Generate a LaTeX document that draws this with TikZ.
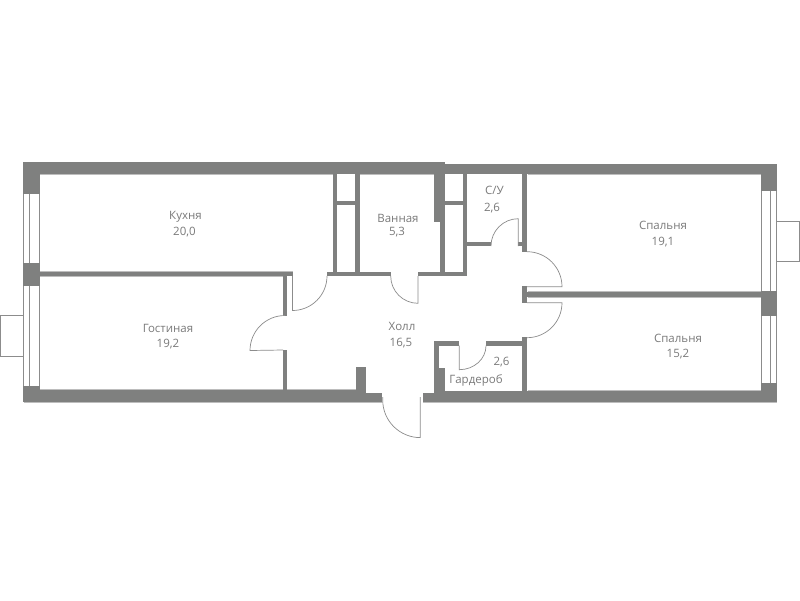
\documentclass[tikz,border=0pt]{standalone}
\usepackage{fontspec}
\setmainfont{Open Sans}
\definecolor{wallc}{HTML}{7F807F}
\definecolor{linec}{HTML}{8C8C8C}
\definecolor{lightc}{HTML}{BDBDBD}
\definecolor{textc}{HTML}{7A7A7A}
\tikzset{
  wall/.style={fill=wallc,draw=none},
  thinline/.style={draw=linec,line width=0.7pt},
  lightline/.style={draw=lightc,line width=1pt},
  label/.style={text=textc,font=\fontsize{11.5}{13}\selectfont,inner sep=0pt,text height=8.3pt,text depth=0pt}
}
\begin{document}
\begin{tikzpicture}[x=1pt,y=-1pt]
\useasboundingbox (0,0) rectangle (800,600);
\fill[white] (0,0) rectangle (800,600);
% light wall edges
\draw[lightline] (39.5,174.5) -- (333,174.5) (360,174.5) -- (434,174.5) (39.5,271.6) -- (292.7,271.6) (39.5,276.5) -- (282.7,276.5);
\draw[lightline] (39.5,389.6) -- (282.7,389.6) (287.3,389.6) -- (355.7,389.6) (23.5,402.7) -- (382,402.7) (423,402.7) -- (777,402.7);
\draw[lightline] (527.5,174.5) -- (761,174.5) (527.5,291.6) -- (761,291.6) (527.5,297) -- (761,297) (527.5,390.2) -- (761,390.2);
\draw[lightline] (39.8,174) -- (39.8,390) (761,174) -- (761,390);
% outer walls
\fill[wall] (23.3,162.3) rectangle (445,174);
\fill[wall] (445,164) rectangle (777,174);
\fill[wall] (23.3,390) rectangle (366,402.3);
\fill[wall] (366,392.7) rectangle (382.3,402.3);
\fill[wall] (422.7,392.7) rectangle (445,402.3);
\fill[wall] (445,390.7) rectangle (777,402.3);
% left piers
\fill[wall] (23.3,174) rectangle (39.5,194);
\fill[wall] (23.3,262.7) rectangle (39.5,285.7);
\fill[wall] (23.3,386) rectangle (39.5,390.5);
% right piers
\fill[wall] (761,174) rectangle (777,191.3);
\fill[wall] (761,291.3) rectangle (777,316.3);
\fill[wall] (761,383.3) rectangle (777,390.7);
% windows
\draw[thinline] (23.8,194) -- (23.8,262.7) (29.5,194) -- (29.5,262.7) (39.2,194) -- (39.2,262.7);
\draw[thinline] (23.8,285.7) -- (23.8,386) (29.5,285.7) -- (29.5,386) (39.2,285.7) -- (39.2,386);
\draw[thinline] (761.8,191.3) -- (761.8,291.3) (770.7,191.3) -- (770.7,291.3) (776.6,191.3) -- (776.6,291.3);
\draw[thinline] (761.8,316.3) -- (761.8,383.3) (770.7,316.3) -- (770.7,383.3) (776.6,316.3) -- (776.6,383.3);
% balconies
\draw[thinline] (23.3,315.8) -- (0.5,315.8) -- (0.5,356) -- (23.3,356);
\draw[thinline] (777,220.9) -- (799.5,220.9) -- (799.5,261) -- (777,261);
% inner horizontal wall
\fill[wall] (39.5,272) rectangle (292.7,276);
\fill[wall] (327,272) rectangle (390.7,276);
\fill[wall] (417.7,272) rectangle (467.3,276);
% living room wall
\fill[wall] (282.7,276) rectangle (287.3,315.5);
\fill[wall] (282.7,350) rectangle (287.3,390.5);
% shafts
\fill[wall] (333,174) rectangle (337.3,272);
\fill[wall] (355.3,174) rectangle (360,272);
\fill[wall] (337.3,200.7) rectangle (355.3,204.7);
\fill[wall] (434,174) rectangle (445,222);
\fill[wall] (440,222) rectangle (445,272);
\fill[wall] (462.7,174) rectangle (467.3,272);
\fill[wall] (445,200.7) rectangle (462.7,204.7);
% bathroom (S/U)
\fill[wall] (467.3,242) rectangle (491,246);
\fill[wall] (518.3,242) rectangle (522,246);
\fill[wall] (522,174) rectangle (527,251.7);
% bedrooms
\fill[wall] (522,286) rectangle (527,302.7);
\fill[wall] (527,292) rectangle (761,296.7);
\fill[wall] (522,337.3) rectangle (527,390.7);
% wardrobe
\fill[wall] (434,341) rectangle (459.3,345.7);
\fill[wall] (486,341) rectangle (522,345.7);
\fill[wall] (434,345.7) rectangle (439,392.7);
\fill[wall] (439,368) rectangle (445,392.7);
% entrance pier
\fill[wall] (355.7,367.3) rectangle (366,392.7);
% doors
\draw[thinline] (327,276) arc[start angle=0,end angle=90,radius=34.5] -- (292.5,276);
\draw[thinline] (285,315.5) arc[start angle=-90,end angle=-180,radius=35] -- (283,350);
\draw[thinline] (390.7,276) arc[start angle=180,end angle=90,radius=27.3] -- (418,276);
\draw[thinline] (491,246) arc[start angle=180,end angle=270,radius=27.3] -- (518.3,246);
\draw[thinline] (527,251.7) arc[start angle=-90,end angle=0,radius=35] -- (527,286.7);
\draw[thinline] (527,302.7) -- (562,302.7) arc[start angle=0,end angle=90,radius=35];
\draw[thinline] (486,345.7) arc[start angle=0,end angle=90,x radius=26.7,y radius=24] -- (459.3,345.7);
\draw[thinline] (382.7,397) -- (382.7,400) arc[start angle=180,end angle=90,radius=37.6] -- (420.3,397);
% labels
\node[label] (kitchenName) at (185.5,215) {Кухня};
\node[label] (kitchenArea) at (184.5,231) {20,0};
\node[label] (livingName) at (168,328) {Гостиная};
\node[label] (livingArea) at (168,343) {19,2};
\node[label] (bathName) at (398,218) {Ванная};
\node[label] (bathArea) at (397,231) {5,3};
\node[label] (hallName) at (402,326) {Холл};
\node[label] (hallArea) at (401,342) {16,5};
\node[label] (wcName) at (494.5,190) {С/У};
\node[label] (wcArea) at (492,207) {2,6};
\node[label] (bedOneName) at (663,225) {Спальня};
\node[label] (bedOneArea) at (663,241) {19,1};
\node[label] (bedTwoName) at (678,338) {Спальня};
\node[label] (bedTwoArea) at (678,353) {15,2};
\node[label] (wardrobeArea) at (501.5,361) {2,6};
\node[label] (wardrobeName) at (476,379) {Гардероб};
\end{tikzpicture}
\end{document}
